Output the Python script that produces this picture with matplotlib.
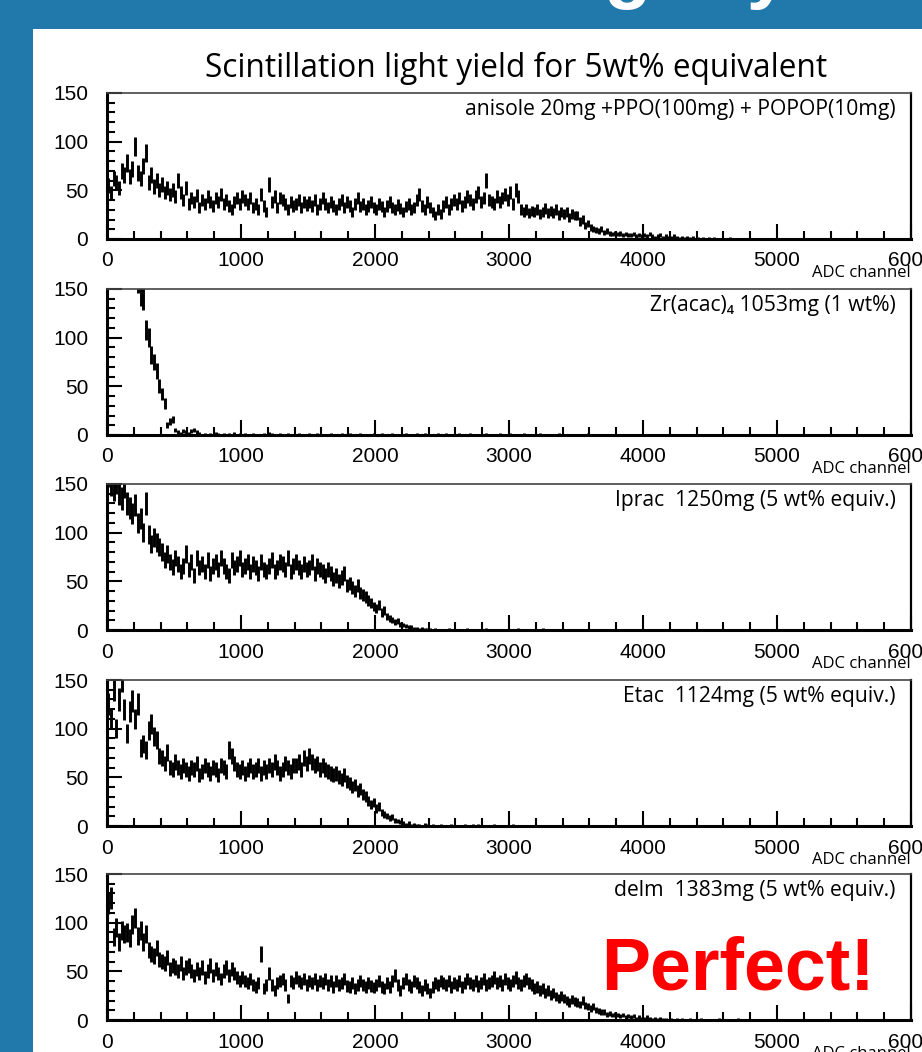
import matplotlib.pyplot as plt
import numpy as np
from matplotlib.patches import Rectangle
from matplotlib.ticker import MultipleLocator

# ヒストグラム: 20 ch 幅のビン (0 - 6000 ch)
bin_width = 20

anisole = [
    55, 48, 62, 58, 52, 70, 66, 78, 64, 72, 95, 68, 62, 75, 88, 58, 66, 54, 60, 50, 56, 48, 52, 46, 50,
    44, 60, 48, 40, 52, 36, 42, 38, 45, 32, 40, 36, 44, 38, 34, 42, 38, 46, 36, 40, 34, 30, 38, 42, 36,
    44, 40, 36, 42, 32, 36, 30, 46, 34, 28, 56, 38, 44, 32, 42, 40, 36, 30, 38, 34, 36, 40, 32, 38, 35,
    38, 34, 40, 30, 36, 42, 36, 32, 38, 34, 30, 36, 40, 32, 38, 34, 28, 36, 42, 33, 36, 30, 34, 38, 32,
    30, 36, 33, 28, 34, 38, 32, 30, 35, 31, 28, 33, 36, 30, 32, 40, 46, 34, 30, 38, 32, 28, 24, 30, 26,
    34, 38, 30, 36, 40, 36, 42, 34, 38, 44, 40, 36, 44, 48, 38, 42, 60, 40, 38, 36, 44, 38, 42, 46, 40,
    48, 36, 50, 44, 30, 28, 30, 27, 29, 28, 30, 26, 28, 31, 27, 29, 27, 30, 25, 28, 26, 28, 22, 26, 24,
    24, 18, 20, 14, 16, 12, 10, 9, 8, 10, 7, 8, 6, 5, 6, 5, 6, 4, 5, 4, 4, 5, 3, 4, 3,
    4, 3, 5, 3, 2, 3, 4, 2, 3, 2, 2, 3, 2, 1, 2, 1, 2, 1, 2, 0, 1, 0, 1, 0, 1,
    0, 1, 0, 0, 0, 0, 0, 1, 0, 0, 0, 0, 0, 0, 0, 0, 0, 0, 0, 0, 0, 0, 0, 0, 0,
    0, 0, 0, 0, 0, 0, 0, 0, 0, 0, 0, 0, 0, 0, 0, 0, 0, 0, 0, 0, 0, 0, 0, 0, 0,
    0, 0, 0, 0, 0, 0, 0, 0, 0, 0, 0, 0, 0, 0, 0, 0, 0, 0, 0, 0, 0, 0, 0, 0, 0,
]

zr_acac = [
    600, 560, 520, 480, 430, 390, 350, 300, 260, 220, 175, 158, 145, 140, 108, 100, 82, 75, 66, 50, 42, 32, 10, 14, 16,
    5, 3, 2, 4, 3, 2, 4, 5, 3, 2, 0, 1, 0, 1, 0, 2, 1, 0, 1, 0, 1, 0, 2, 0, 1,
    0, 1, 0, 0, 1, 0, 0, 0, 1, 0, 2, 1, 0, 0, 1, 0, 0, 1, 0, 0, 0, 1, 0, 0, 0,
    1, 0, 0, 1, 0, 0, 0, 0, 1, 0, 0, 0, 1, 0, 0, 1, 0, 0, 0, 1, 0, 0, 0, 0, 1,
    0, 0, 1, 0, 0, 0, 1, 0, 0, 0, 0, 1, 0, 0, 0, 1, 0, 0, 1, 0, 0, 0, 0, 1, 0,
    0, 1, 0, 0, 0, 0, 1, 0, 0, 0, 1, 0, 0, 0, 0, 0, 1, 0, 0, 0, 0, 1, 0, 0, 0,
    1, 0, 0, 0, 0, 1, 0, 0, 0, 0, 0, 1, 0, 0, 0, 0, 0, 0, 1, 0, 0, 0, 0, 0, 0,
    0, 0, 0, 0, 1, 0, 0, 0, 0, 0, 0, 0, 0, 0, 0, 0, 0, 0, 0, 0, 0, 0, 0, 0, 0,
    0, 0, 0, 0, 0, 0, 0, 0, 0, 0, 0, 0, 0, 0, 0, 0, 0, 0, 0, 0, 0, 0, 0, 0, 0,
    0, 0, 0, 0, 0, 0, 0, 0, 0, 0, 0, 0, 0, 0, 0, 0, 0, 0, 0, 0, 0, 0, 0, 0, 0,
    0, 0, 0, 0, 0, 0, 0, 0, 0, 0, 0, 0, 0, 0, 0, 0, 0, 0, 0, 0, 0, 0, 0, 0, 0,
    0, 0, 0, 0, 0, 0, 0, 0, 0, 0, 0, 0, 0, 0, 0, 0, 0, 0, 0, 0, 0, 0, 0, 0, 0,
]

iprac = [
    160, 150, 145, 152, 140, 135, 148, 130, 125, 120, 128, 110, 115, 100, 130, 98, 88, 95, 90, 85, 80, 72, 78, 70, 65,
    74, 68, 60, 66, 78, 62, 70, 56, 74, 64, 68, 60, 72, 58, 66, 70, 62, 74, 66, 60, 56, 72, 64, 68, 74,
    62, 66, 70, 60, 68, 64, 58, 70, 62, 60, 66, 72, 60, 64, 70, 68, 62, 74, 60, 66, 70, 64, 60, 68, 62,
    64, 70, 58, 66, 62, 60, 56, 62, 58, 52, 56, 50, 54, 58, 46, 48, 44, 40, 46, 38, 36, 34, 30, 28, 24,
    22, 26, 18, 20, 14, 12, 10, 8, 9, 6, 5, 4, 3, 3, 2, 2, 1, 2, 1, 1, 1, 0, 1, 0, 0,
    0, 0, 1, 0, 0, 0, 0, 0, 0, 1, 0, 0, 0, 0, 0, 0, 1, 0, 0, 0, 0, 0, 0, 0, 0,
    0, 0, 0, 1, 0, 0, 0, 0, 0, 0, 0, 0, 1, 0, 0, 0, 0, 0, 0, 0, 0, 0, 0, 0, 0,
    0, 0, 0, 0, 0, 0, 0, 0, 0, 0, 0, 0, 0, 0, 0, 0, 0, 0, 0, 0, 0, 0, 0, 0, 0,
    0, 0, 0, 0, 0, 0, 0, 0, 0, 0, 0, 0, 0, 0, 0, 0, 0, 0, 0, 0, 0, 0, 0, 0, 0,
    0, 0, 0, 0, 0, 0, 0, 0, 0, 0, 0, 0, 0, 0, 0, 0, 0, 0, 0, 0, 0, 0, 0, 0, 0,
    0, 0, 0, 0, 0, 0, 0, 0, 0, 0, 0, 0, 0, 0, 0, 0, 0, 0, 0, 0, 0, 0, 0, 0, 0,
    0, 0, 0, 0, 0, 0, 0, 0, 0, 0, 0, 0, 0, 0, 0, 0, 0, 0, 0, 0, 0, 0, 0, 0, 0,
]

etac = [
    125, 110, 140, 100, 130, 150, 120, 95, 118, 128, 110, 125, 80, 84, 78, 98, 105, 92, 88, 72, 70, 64, 76, 60, 58,
    66, 60, 56, 62, 58, 54, 60, 58, 64, 52, 56, 62, 58, 54, 60, 58, 52, 62, 60, 56, 78, 72, 64, 58, 56,
    60, 54, 58, 62, 56, 58, 62, 54, 60, 56, 62, 58, 66, 60, 54, 58, 64, 60, 56, 62, 62, 66, 58, 70, 64,
    72, 66, 62, 64, 58, 62, 58, 56, 54, 52, 54, 50, 48, 52, 46, 44, 40, 42, 36, 38, 32, 30, 26, 22, 24,
    18, 20, 14, 12, 10, 8, 9, 6, 5, 4, 3, 2, 3, 1, 2, 1, 1, 0, 2, 1, 0, 1, 0, 0, 1,
    0, 0, 0, 1, 0, 0, 0, 0, 1, 0, 0, 1, 0, 1, 0, 0, 0, 0, 0, 1, 0, 0, 0, 0, 0,
    0, 1, 0, 0, 0, 0, 0, 0, 0, 0, 0, 0, 0, 0, 0, 0, 0, 0, 0, 0, 0, 0, 0, 0, 0,
    0, 0, 0, 0, 0, 0, 0, 0, 0, 0, 0, 0, 0, 0, 0, 0, 0, 0, 0, 0, 0, 0, 0, 0, 0,
    0, 0, 0, 0, 0, 0, 0, 0, 0, 0, 0, 0, 0, 0, 0, 0, 0, 0, 0, 0, 0, 0, 0, 0, 0,
    0, 0, 0, 0, 0, 0, 0, 0, 0, 0, 0, 0, 0, 0, 0, 0, 0, 0, 0, 0, 0, 0, 0, 0, 0,
    0, 0, 0, 0, 0, 0, 0, 0, 0, 0, 0, 0, 0, 0, 0, 0, 0, 0, 0, 0, 0, 0, 0, 0, 0,
    0, 0, 0, 0, 0, 0, 0, 0, 0, 0, 0, 0, 0, 0, 0, 0, 0, 0, 0, 0, 0, 0, 0, 0, 0,
]

delm = [
    120, 125, 85, 95, 80, 92, 88, 90, 84, 98, 105, 86, 92, 80, 88, 72, 68, 66, 74, 62, 60, 58, 64, 52, 56,
    54, 50, 58, 48, 54, 56, 50, 46, 52, 48, 54, 44, 50, 56, 46, 52, 48, 42, 50, 54, 46, 52, 48, 44, 40,
    44, 40, 38, 42, 36, 34, 38, 68, 32, 36, 48, 36, 30, 38, 40, 42, 36, 22, 40, 38, 44, 40, 38, 42, 36,
    40, 38, 42, 36, 40, 38, 42, 36, 40, 34, 40, 36, 38, 42, 35, 34, 38, 32, 36, 40, 36, 34, 38, 35, 33,
    36, 40, 34, 32, 38, 34, 40, 46, 36, 30, 38, 42, 36, 34, 40, 38, 34, 30, 36, 32, 28, 34, 38, 36, 40,
    38, 36, 40, 34, 38, 36, 40, 34, 38, 42, 38, 36, 40, 35, 38, 42, 36, 38, 40, 44, 38, 40, 36, 42, 38,
    36, 40, 44, 38, 36, 40, 42, 38, 36, 32, 34, 30, 32, 28, 30, 26, 28, 24, 22, 25, 22, 20, 18, 21, 19,
    18, 16, 20, 15, 14, 12, 14, 10, 9, 8, 8, 6, 7, 5, 6, 5, 4, 5, 3, 4, 3, 4, 2, 3, 2,
    2, 3, 2, 1, 2, 1, 2, 1, 1, 0, 1, 0, 1, 0, 1, 0, 0, 1, 0, 0, 0, 1, 0, 0, 0,
    0, 0, 0, 1, 0, 0, 0, 0, 0, 0, 1, 0, 0, 0, 0, 0, 0, 0, 0, 0, 0, 0, 0, 0, 0,
    0, 0, 0, 0, 0, 0, 0, 0, 0, 0, 0, 0, 0, 0, 0, 0, 0, 0, 0, 0, 0, 0, 0, 0, 0,
    0, 0, 0, 0, 0, 0, 0, 0, 0, 0, 0, 0, 0, 0, 0, 0, 0, 0, 0, 0, 0, 0, 0, 0, 0,
]

samples = [anisole, zr_acac, iprac, etac, delm]
sample_labels = [
    "anisole 20mg +PPO(100mg) + POPOP(10mg)",
    "Zr(acac)\u2084 1053mg (1 wt%)",
    "Iprac  1250mg (5 wt% equiv.)",
    "Etac  1124mg (5 wt% equiv.)",
    "delm  1383mg (5 wt% equiv.)",
]
x_ticks = [0, 1000, 2000, 3000, 4000, 5000, 6000]
y_ticks = [0, 50, 100, 150]

TEXT_FONT = ["Open Sans", "DejaVu Sans"]
TICK_FONT = "Liberation Sans"
BLUE = "#2079aa"

W, H = 922, 1052
fig = plt.figure(figsize=(W / 100, H / 100), dpi=100)
fig.patch.set_facecolor(BLUE)

# 白い背景パネル (軸より後ろ)
fig.patches.append(
    Rectangle((33 / W, 0), 1 - 33 / W, 1 - 29 / H, transform=fig.transFigure,
              facecolor="white", edgecolor="none", zorder=-1)
)

# スライドのタイトル (上端で切れている)
fig.text(535 / W, 1 + 6 / H, "Light yield", color="white", fontsize=56,
         fontweight="bold", family="Liberation Sans", ha="left", va="baseline")

fig.text(516 / W, 1 - 68 / H, "Scintillation light yield for 5wt% equivalent",
         family=TEXT_FONT, fontsize=22.8, ha="center", va="center")

left, right = 107, 911
tops = [93, 289, 484, 680, 874]
ph = 146

for top, counts, label in zip(tops, samples, sample_labels):
    ax = fig.add_axes([left / W, 1 - (top + ph) / H, (right - left) / W, ph / H])
    ax.set_facecolor("none")

    y = np.array(counts, dtype=float)
    x = np.arange(len(y)) * bin_width + bin_width / 2
    ax.errorbar(x, y, yerr=np.sqrt(y), fmt="none", ecolor="black", elinewidth=2.1)

    ax.set_xlim(0, 6000)
    ax.set_ylim(0, 150)
    ax.set_xticks(x_ticks)
    ax.set_yticks(y_ticks)
    ax.xaxis.set_minor_locator(MultipleLocator(200))
    ax.yaxis.set_minor_locator(MultipleLocator(10))
    ax.tick_params(which="both", direction="in", top=False, right=False, width=1.5)
    ax.tick_params(which="major", length=11)
    ax.tick_params(which="minor", length=5.5)
    ax.tick_params(axis="x", pad=9)
    ax.tick_params(axis="y", pad=13.5)
    for lab in ax.get_xticklabels() + ax.get_yticklabels():
        lab.set_family(TICK_FONT)
        lab.set_fontsize(15)

    ax.spines["left"].set_linewidth(2.2)
    ax.spines["bottom"].set_linewidth(2.2)
    ax.spines["right"].set_linewidth(1.6)
    ax.spines["top"].set_linewidth(1.2)
    ax.spines["top"].set_color("#444444")

    ax.text(0.981, 0.884, label, transform=ax.transAxes, ha="right", va="center",
            family=TEXT_FONT, fontsize=15.2)
    ax.text(1.0, -34 / ph, "ADC channel", transform=ax.transAxes,
            ha="right", va="center", family=TEXT_FONT, fontsize=12)

fig.text(738 / W, 1 - 990 / H, "Perfect!", color="#ff0000", fontsize=53,
         fontweight="bold", family="Liberation Sans", ha="center", va="baseline")

plt.savefig("out.png", dpi=100, facecolor=fig.get_facecolor())
